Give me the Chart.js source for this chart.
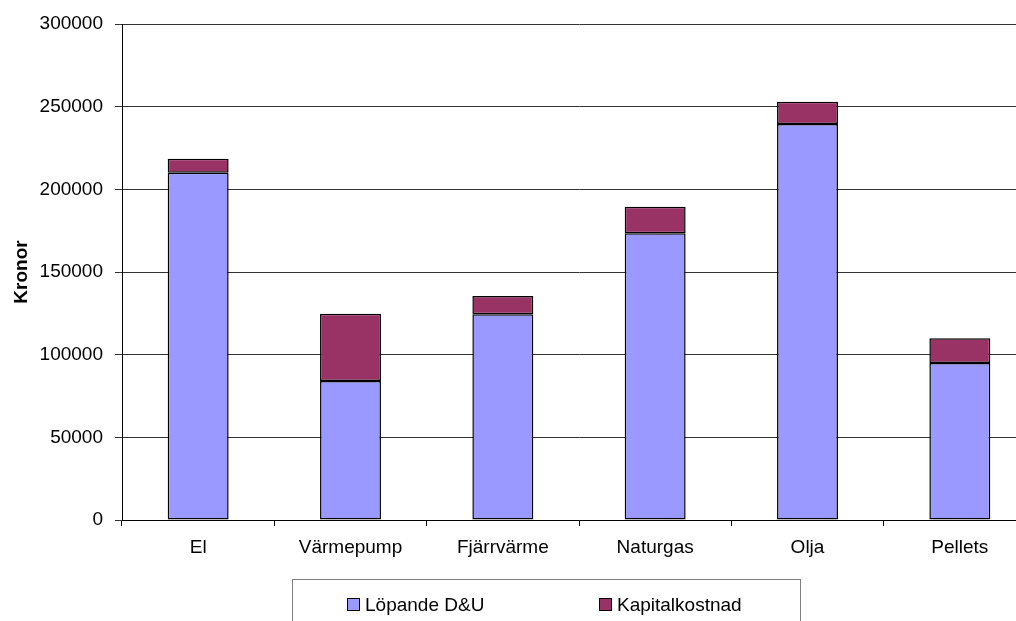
<!DOCTYPE html>
<html>
<head>
<meta charset="utf-8">
<script src="https://cdn.jsdelivr.net/npm/chart.js@4/dist/chart.umd.min.js"></script>
<style>
  html, body { margin: 0; padding: 0; background: #fff; overflow: hidden; }
</style>
</head>
<body>
<canvas id="kostnad" width="1050" height="621"></canvas>
<script>
// Data
var kategorier = ['El', 'Värmepump', 'Fjärrvärme', 'Naturgas', 'Olja', 'Pellets'];
var lopandeDU = [210000, 84000, 124500, 173500, 239500, 95000];
var kapitalkostnad = [8500, 40700, 11000, 16000, 13500, 15000];
var serieNamn = ['Löpande D&U', 'Kapitalkostnad'];
var yMax = 300000;
var yStep = 50000;

var typsnitt = '"Liberation Sans", Arial, sans-serif';

// Ritar legenden i en ram under diagrammet
var ramLegend = {
  id: 'ramLegend',
  afterDraw: function(chart) {
    var c = chart.ctx;
    c.save();
    c.strokeStyle = '#808080';
    c.lineWidth = 1;
    c.strokeRect(292.5, 579.5, 508, 60);
    var lagen = [{ ruta: 347, text: 365 }, { ruta: 599, text: 617 }];
    chart.data.datasets.forEach(function(ds, i) {
      c.fillStyle = ds.backgroundColor;
      c.fillRect(lagen[i].ruta, 598, 13, 13);
      c.strokeStyle = '#000';
      c.strokeRect(lagen[i].ruta + 0.5, 598.5, 12, 12);
      c.fillStyle = '#000';
      c.font = '19px ' + typsnitt;
      c.textBaseline = 'alphabetic';
      c.fillText(ds.label, lagen[i].text, 611);
    });
    c.restore();
  }
};

var ctx = document.getElementById('kostnad').getContext('2d');
new Chart(ctx, {
  type: 'bar',
  data: {
    labels: kategorier,
    datasets: [{
      label: serieNamn[0],
      data: lopandeDU,
      backgroundColor: '#9999FF',
      borderColor: '#000',
      borderWidth: 1.5,
      borderSkipped: false,
      inflateAmount: 0
    }, {
      label: serieNamn[1],
      data: kapitalkostnad,
      backgroundColor: '#993366',
      borderColor: '#000',
      borderWidth: 1.5,
      borderSkipped: false,
      inflateAmount: 0
    }]
  },
  options: {
    responsive: false,
    animation: false,
    layout: { padding: { top: 24, right: 14, left: 0, bottom: 0 } },
    datasets: { bar: { barPercentage: 0.4, categoryPercentage: 1 } },
    plugins: {
      legend: { display: false },
      tooltip: { enabled: false }
    },
    scales: {
      x: {
        stacked: true,
        grid: { display: true, drawOnChartArea: false, drawTicks: true, tickLength: 6, color: '#000', offset: true },
        border: { display: true, color: '#000', width: 1 },
        ticks: { color: '#000', padding: 10, font: { family: typsnitt, size: 19 }, maxRotation: 0 },
        afterFit: function(scale) { scale.height = 101; }
      },
      y: {
        stacked: true,
        min: 0,
        max: yMax,
        grid: { color: '#333', tickLength: 7, lineWidth: 1 },
        border: { display: true, color: '#000', width: 1 },
        ticks: {
          stepSize: yStep,
          color: '#000',
          padding: 12,
          font: { family: typsnitt, size: 19 },
          callback: function(v) { return String(v); }
        },
        title: {
          display: true,
          text: 'Kronor',
          color: '#000',
          padding: { top: 10, bottom: 0 },
          font: { family: typsnitt, size: 19, weight: 'bold' }
        },
        afterFit: function(scale) { scale.width = 122; }
      }
    }
  },
  plugins: [ramLegend]
});
</script>
</body>
</html>
